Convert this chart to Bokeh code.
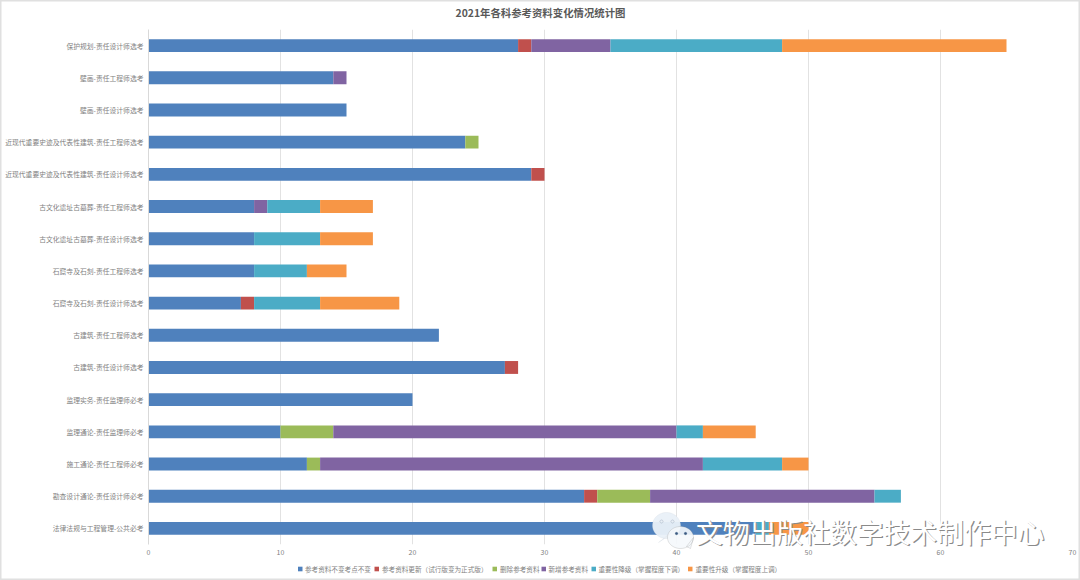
import numpy as np
from bokeh.plotting import figure
from bokeh.embed import file_html
from bokeh.resources import INLINE
from bokeh.models import Label, PolyAnnotation, Range1d, FactorRange, FixedTicker

categories = ["保护规划-责任设计师选考","壁画-责任工程师选考","壁画-责任设计师选考",
 "近现代重要史迹及代表性建筑-责任工程师选考","近现代重要史迹及代表性建筑-责任设计师选考",
 "古文化遗址古墓葬-责任工程师选考","古文化遗址古墓葬-责任设计师选考",
 "石窟寺及石刻-责任工程师选考","石窟寺及石刻-责任设计师选考",
 "古建筑-责任工程师选考","古建筑-责任设计师选考","监理实务-责任监理师必考",
 "监理通论-责任监理师必考","施工通论-责任工程师必考","勘查设计通论-责任设计师必考",
 "法律法规与工程管理-公共必考"]
unchanged = [28,14,15,24,29,8,8,8,7,22,27,20,10,12,33,46]
updated   = [1,0,0,0,1,0,0,0,1,0,1,0,0,0,1,0]
deleted   = [0,0,0,1,0,0,0,0,0,0,0,0,4,1,4,0]
added     = [6,1,0,0,0,1,0,0,0,0,0,0,26,29,17,0]
lowered   = [13,0,0,0,0,4,5,4,5,0,0,0,2,6,2,1]
raised    = [17,0,0,0,0,4,4,3,6,0,0,0,4,2,0,3]
series_names = ["参考资料不变考点不变","参考资料更新（试行版变为正式版）","删除参考资料","新增参考资料",
 "重要性降级（掌握程度下调）","重要性升级（掌握程度上调）"]
colors = ["#4f81bd","#c0504d","#9bbb59","#8064a2","#4bacc6","#f79646"]
x_ticks = [0,10,20,30,40,50,60,70]
title_text = "2021年各科参考资料变化情况统计图"
watermark = "文物出版社数字技术制作中心"

FONT = "Noto Sans CJK SC"
GREY = "#7f7f7f"
FX, FY = 148, 544   # plot frame origin on the page
p = figure(width=1080, height=580, output_backend="svg", toolbar_location=None,
           y_range=FactorRange(factors=categories[::-1], factor_padding=0, range_padding=0, group_padding=0, subgroup_padding=0),
           x_range=Range1d(0,70), min_border_left=FX, min_border_right=8, min_border_top=29, min_border_bottom=36)
p.outline_line_color = None
data = dict(cat=categories, a=unchanged, b=updated, c=deleted, d=added, e=lowered, f=raised)
keys = ["a","b","c","d","e","f"]
rs = p.hbar_stack(keys, y="cat", height=0.4, color=colors, source=data, line_width=0)
p.xaxis.ticker = FixedTicker(ticks=x_ticks)
p.xaxis.axis_line_color = None
p.xaxis.major_tick_line_color = None
p.xaxis.minor_tick_line_color = None
p.xaxis.major_tick_out = 0
p.xaxis.major_label_text_font = FONT
p.xaxis.major_label_text_font_size = "7px"
p.xaxis.major_label_text_color = GREY
p.xaxis.major_label_standoff = 4
p.yaxis.axis_line_color = "#d9d9d9"
p.yaxis.major_tick_line_color = None
p.yaxis.minor_tick_line_color = None
p.yaxis.major_tick_out = 0
p.yaxis.major_label_text_font = FONT
p.yaxis.major_label_text_font_size = "6.8px"
p.yaxis.major_label_text_color = GREY
p.yaxis.major_label_standoff = 5
p.xgrid.grid_line_color = "#e2e2e2"
p.xgrid.ticker = FixedTicker(ticks=x_ticks)
p.ygrid.grid_line_color = None

# transparent sheet over the chart: title, legend and watermark, positioned in page pixels
o = figure(width=1080, height=580, output_backend="svg", toolbar_location=None,
           x_range=Range1d(0,1080), y_range=Range1d(580,0),
           min_border=0, min_border_left=0, min_border_right=0, min_border_top=0, min_border_bottom=0,
           x_axis_location=None, y_axis_location=None)
o.grid.visible = False
o.outline_line_color = "#e0e0e0"
o.outline_line_width = 2
o.background_fill_alpha = 0
o.border_fill_alpha = 0
o.margin = (-580, 0, 0, 0)

def poly(xs, ys, fill, alpha, line, lw=0.8):
    o.add_layout(PolyAnnotation(xs=list(xs), ys=[580-v for v in ys], xs_units="screen", ys_units="screen",
                                fill_color=fill, fill_alpha=alpha, line_color=line, line_width=lw))
def text(x, y, s, size, color, align="left", style="normal"):
    o.add_layout(Label(x=x, y=580-y, x_units="screen", y_units="screen", text=s, text_font=FONT,
                       text_font_size=size, text_font_style=style, text_color=color,
                       text_align=align, text_baseline="middle"))

sq_x = [297.5, 374, 492, 541, 591, 687.5]
tx_x = [304.5, 381.5, 499.5, 548, 598, 695]
LY = 568.5
for sx, tx, name, col in zip(sq_x, tx_x, series_names, colors):
    poly([sx, sx+4.5, sx+4.5, sx], [LY-2.3, LY-2.3, LY+2.3, LY+2.3], col, 1, None, 0)
    text(tx, LY, name, "6.6px", GREY)

text(540, 12, title_text, "10.4px", "#595959", "center", "bold")

def blob(cx, cy, rx, ry, tail=None):
    t = np.linspace(0, 2*np.pi, 60)
    xs = list(cx + rx*np.cos(t)); ys = list(cy + ry*np.sin(t))
    if tail:
        xs += [tail[0], tail[2]]; ys += [tail[1], tail[3]]
    return xs, ys
poly(*blob(666,525,14,13,(658,542,664,538)), "#e9f0f8", 0.95, "#c8d0d8")
poly(*blob(661,521,1.5,1.5), "#e9f0f8", 1, "#5a6a80")
poly(*blob(672,521,1.5,1.5), "#e9f0f8", 1, "#5a6a80")
poly(*blob(680,537,13,11,(690,548,686,546)), "#f5f8fc", 0.9, "#8a8a8a")
poly(*blob(676,533,1.3,1.3), "#3a5a80", 1, "#3a5a80")
poly(*blob(685,533,1.3,1.3), "#3a5a80", 1, "#3a5a80")
for dx, col in [(1.2, "#8a8a8a"), (0, "#ffffff")]:
    text(695.5+dx, 531+dx, watermark, "26.8px", col)

open("out.html", "w").write(file_html([p, o], INLINE))
